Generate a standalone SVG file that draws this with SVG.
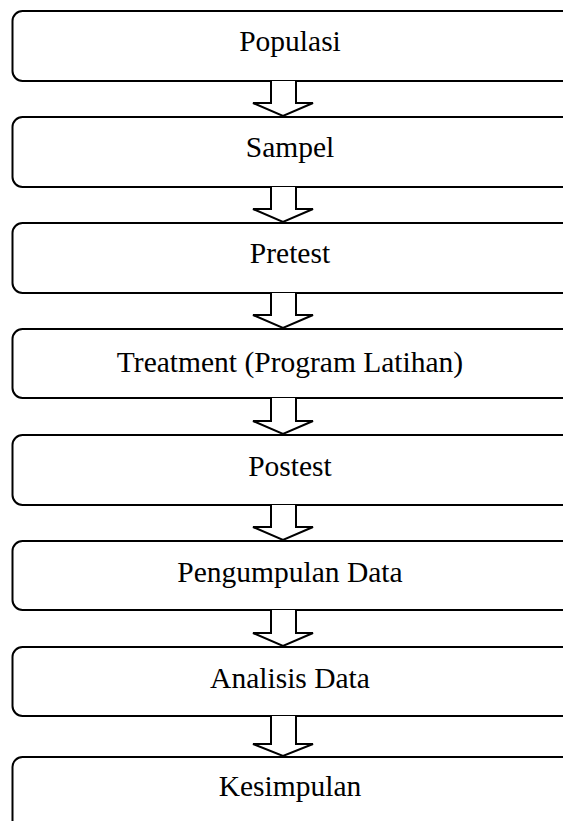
<svg xmlns="http://www.w3.org/2000/svg" width="563" height="821" viewBox="0 0 563 821">
<style>
.box{fill:#fff;stroke:#000;stroke-width:2}
.lbl{font-family:"Liberation Serif","Times New Roman",serif;font-size:29.5px;fill:#000;text-anchor:middle}
.arr{fill:#fff;stroke:#000;stroke-width:2;stroke-linejoin:miter}
</style>
<rect width="563" height="821" fill="#fff"/>
<g id="n1"><rect class="box" x="12.5" y="11" width="600" height="70" rx="10"/><text class="lbl" x="290" y="51">Populasi</text></g>
<g id="n2"><rect class="box" x="12.5" y="117" width="600" height="70" rx="10"/><text class="lbl" x="290" y="157">Sampel</text></g>
<g id="n3"><rect class="box" x="12.5" y="223" width="600" height="70" rx="10"/><text class="lbl" x="290" y="263">Pretest</text></g>
<g id="n4"><rect class="box" x="12.5" y="329" width="600" height="69" rx="10"/><text class="lbl" x="290" y="372">Treatment (Program Latihan)</text></g>
<g id="n5"><rect class="box" x="12.5" y="435" width="600" height="70" rx="10"/><text class="lbl" x="290" y="476">Postest</text></g>
<g id="n6"><rect class="box" x="12.5" y="541" width="600" height="69" rx="10"/><text class="lbl" x="290" y="582">Pengumpulan Data</text></g>
<g id="n7"><rect class="box" x="12.5" y="647" width="600" height="69" rx="10"/><text class="lbl" x="290" y="688">Analisis Data</text></g>
<g id="n8"><rect class="box" x="12.5" y="757" width="600" height="100" rx="10"/><text class="lbl" x="290" y="796">Kesimpulan</text></g>
<g id="connectors">
<path class="arr" d="M271,81 V103 H253 L283,116 L313,103 H296 V81"/>
<path class="arr" d="M271,187 V209 H253 L283,222 L313,209 H296 V187"/>
<path class="arr" d="M271,293 V315 H253 L283,328 L313,315 H296 V293"/>
<path class="arr" d="M271,398 V421 H253 L283,434 L313,421 H296 V398"/>
<path class="arr" d="M271,505 V527 H253 L283,540 L313,527 H296 V505"/>
<path class="arr" d="M271,610 V633 H253 L283,646 L313,633 H296 V610"/>
<path class="arr" d="M271,716 V744 H253 L283,756 L313,744 H296 V716"/>
</g>
</svg>
